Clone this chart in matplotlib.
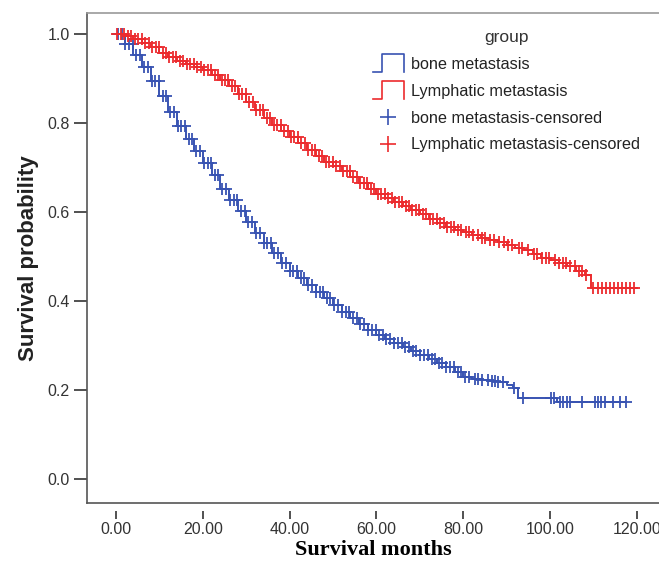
import numpy as np
import matplotlib
matplotlib.use("Agg")
import matplotlib.pyplot as plt
from matplotlib.legend_handler import HandlerBase
from matplotlib.lines import Line2D

plt.rcParams['font.family'] = ['Liberation Sans', 'DejaVu Sans']

# survival step data (time in months, survival probability after the step)
bone_t = [0, 2, 4, 6, 8, 10, 12, 14, 16, 18, 20, 22, 24, 26, 28, 30, 32, 34, 36, 38,
          40, 42, 44, 46, 48, 50, 52, 54, 56, 58, 60, 62, 64, 66, 68, 70, 72, 74, 76, 78,
          80, 82, 84, 86, 88, 90, 91.5, 92.5, 101.5, 117.5]
bone_s = [1.0, 0.978, 0.953, 0.925, 0.895, 0.86, 0.825, 0.792, 0.763, 0.736, 0.71, 0.682,
          0.652, 0.626, 0.601, 0.577, 0.553, 0.53, 0.507, 0.486, 0.467, 0.451, 0.436, 0.421,
          0.406, 0.391, 0.375, 0.361, 0.348, 0.335, 0.323, 0.314, 0.305, 0.296, 0.288, 0.279,
          0.27, 0.261, 0.251, 0.24, 0.23, 0.225, 0.222, 0.22, 0.218, 0.212, 0.205, 0.182,
          0.173, 0.173]

lymph_t = [0, 2, 4, 6, 8, 10, 12, 14, 16, 18, 20, 22, 24, 26, 28, 30, 32, 34, 36, 38,
           40, 42, 44, 46, 48, 50, 52, 54, 56, 58, 60, 62, 64, 66, 68, 70, 72, 74, 76, 78,
           80, 82, 84, 86, 88, 90, 92, 94, 96, 98, 100, 102, 104, 106, 108, 109.5, 120]
lymph_s = [1.0, 0.995, 0.988, 0.98, 0.97, 0.958, 0.948, 0.94, 0.932, 0.925, 0.918, 0.908,
           0.896, 0.883, 0.865, 0.846, 0.828, 0.812, 0.796, 0.782, 0.768, 0.754, 0.74, 0.726,
           0.713, 0.703, 0.692, 0.679, 0.666, 0.652, 0.641, 0.632, 0.623, 0.613, 0.604, 0.595,
           0.585, 0.576, 0.566, 0.56, 0.556, 0.548, 0.541, 0.536, 0.532, 0.526, 0.52, 0.514,
           0.505, 0.497, 0.492, 0.486, 0.478, 0.468, 0.458, 0.429, 0.429]

# censoring times
bone_cens = [0.4, 1.3, 2.1, 3.0, 3.9, 4.7, 5.6, 6.4, 7.3, 8.2, 9.0, 9.9, 10.7, 11.6, 12.5,
             13.3, 14.2, 15.0, 15.9, 16.8, 17.6, 18.5, 19.3, 20.2, 21.1, 21.9, 22.8, 23.6,
             24.5, 25.4, 26.2, 27.1, 27.9, 28.8, 29.7, 30.5, 31.4, 32.2, 33.1, 34.0, 34.8,
             35.7, 36.5, 37.4, 38.3, 39.1, 40.0, 40.8, 41.7, 42.6, 43.4, 44.3, 45.1, 46.0,
             46.9, 47.7, 48.6, 49.4, 50.3, 51.2, 52.0, 52.9, 53.7, 54.6, 55.5, 56.3, 57.2,
             58.0, 58.9, 59.8, 60.6, 61.5, 62.3, 63.2, 64.1, 64.9, 65.8, 66.6, 67.5, 68.4,
             69.2, 70.1, 70.9, 71.8, 72.7, 73.5, 74.4, 75.2, 76.1, 77.0, 77.8, 78.7, 79.5,
             80.4, 81.3, 82.6, 83.5, 84.4, 85.8, 86.6, 87.3, 88.1, 89.2, 91.8, 93.8, 100.3,
             100.9, 102.3, 103.0, 103.8, 104.6, 107.4, 110.3, 111.0, 111.8, 112.6, 114.6,
             116.2, 117.5]
lymph_cens = [0.3, 1.1, 1.9, 2.7, 3.5, 4.3, 5.1, 5.9, 6.7, 7.5, 8.3, 9.1, 9.9, 10.7, 11.5,
              12.3, 13.1, 13.9, 14.7, 15.5, 16.3, 17.1, 17.9, 18.7, 19.5, 20.3, 21.1, 21.9,
              22.7, 23.5, 24.3, 25.1, 25.9, 26.7, 27.5, 28.3, 29.1, 29.9, 30.7, 31.5, 32.3,
              33.1, 33.9, 34.7, 35.5, 36.3, 37.1, 37.9, 38.7, 39.5, 40.3, 41.1, 41.9, 42.7,
              43.5, 44.3, 45.1, 45.9, 46.7, 47.5, 48.3, 49.1, 49.9, 50.7, 51.5, 52.3, 53.1,
              53.9, 54.7, 55.5, 56.3, 57.1, 57.9, 58.7, 59.5, 60.3, 61.1, 61.9, 62.7, 63.5,
              64.3, 65.1, 65.9, 66.7, 67.5, 68.3, 69.1, 69.9, 70.7, 71.5, 72.3, 73.1, 73.9,
              74.7, 75.5, 76.3, 77.1, 77.9, 78.7, 79.5, 80.6, 81.4, 82.2, 83.5, 84.3, 85.1,
              86.2, 87.0, 88.3, 89.5, 90.4, 91.2, 92.8, 93.6, 94.9, 96.3, 97.1, 98.2, 99.0,
              99.8, 101.2, 102.1, 102.9, 103.7, 104.5, 105.8, 106.6, 107.4, 108.2, 110.0,
              111.0, 111.9, 112.8, 113.8, 114.7, 115.6, 116.6, 117.5, 118.4, 119.4]

x_ticks = [0, 20, 40, 60, 80, 100, 120]
y_ticks = [0.0, 0.2, 0.4, 0.6, 0.8, 1.0]

BLUE = '#3853b2'
RED = '#ec2b2e'


def cens_y(t, s, c):
    idx = np.searchsorted(t, c, side='right') - 1
    return np.asarray(s)[idx]


class StepHandler(HandlerBase):
    # legend icon: _|"|
    def create_artists(self, legend, orig_handle, xdescent, ydescent,
                       width, height, fontsize, trans):
        x0 = -xdescent
        y0 = -ydescent
        xm = x0 + 0.28 * width
        lo = y0 - 0.25 * height
        hi = y0 + 1.3 * height
        ln = Line2D([x0, xm, xm, x0 + width, x0 + width], [lo, lo, hi, hi, lo],
                    color=orig_handle.get_color(), lw=1.2, transform=trans)
        return [ln]


fig = plt.figure(figsize=(6.59, 5.64), dpi=100)
ax = fig.add_axes([87 / 659, (564 - 503) / 564, 1 - 87 / 659, (503 - 13) / 564])

ax.step(bone_t, bone_s, where='post', color=BLUE, lw=1.4)
ax.step(lymph_t, lymph_s, where='post', color=RED, lw=1.4)
ax.plot(bone_cens, cens_y(bone_t, bone_s, bone_cens), '+', color=BLUE, ms=8.5, mew=1.3)
ax.plot(lymph_cens, cens_y(lymph_t, lymph_s, lymph_cens), '+', color=RED, ms=8.5, mew=1.3)

ax.set_xlim(-6.7, 125.1)
ax.set_ylim(-0.054, 1.047)

for side in ['left', 'bottom']:
    ax.spines[side].set_color('#555555')
    ax.spines[side].set_linewidth(1.2)
ax.spines['top'].set_color('#999999')
ax.spines['top'].set_linewidth(1.2)
ax.spines['right'].set_visible(False)

ax.set_yticks(y_ticks)
ax.set_yticklabels(['%.1f' % v for v in y_ticks])
ax.tick_params(axis='y', direction='out', length=9.5, width=1.2, color='#333333',
               labelsize=11.5, labelcolor='#333333', pad=3)
ax.tick_params(axis='x', bottom=False, labelbottom=False)
ax.set_ylabel('Survival probability', fontsize=16, fontweight='bold', color='#222222')
ax.yaxis.set_label_coords(-0.084, 0.5)

# detached x ticks like SPSS
sec = ax.secondary_xaxis(-8 / 490)
sec.spines['bottom'].set_visible(False)
sec.set_xticks(x_ticks)
sec.set_xticklabels(['%.2f' % v for v in x_ticks])
sec.tick_params(direction='out', length=6, width=1.2, color='#333333',
                labelsize=11.5, labelcolor='#333333', pad=2)
sec.set_xlabel('Survival months', fontsize=16, fontweight='bold',
               family='Liberation Serif', labelpad=2)

h1 = Line2D([], [], color=BLUE)
h2 = Line2D([], [], color=RED)
h3 = Line2D([], [], color=BLUE, marker='+', ls='none', ms=12, mew=1.2)
h4 = Line2D([], [], color=RED, marker='+', ls='none', ms=12, mew=1.2)
leg = ax.legend([h1, h2, h3, h4],
                ['bone metastasis', 'Lymphatic metastasis',
                 'bone metastasis-censored', 'Lymphatic metastasis-censored'],
                handler_map={h1: StepHandler(), h2: StepHandler()},
                title='group', loc='upper left',
                bbox_to_anchor=(373 / 659, 1 - 30 / 564), bbox_transform=fig.transFigure,
                frameon=False, fontsize=11.7, title_fontsize=12.5,
                handlelength=1.9, handletextpad=0.42, labelspacing=0.73,
                borderpad=0, borderaxespad=0)
for t in leg.get_texts():
    t.set_color('#222222')
leg.get_title().set_color('#333333')

fig.savefig('out.png', dpi=100)
